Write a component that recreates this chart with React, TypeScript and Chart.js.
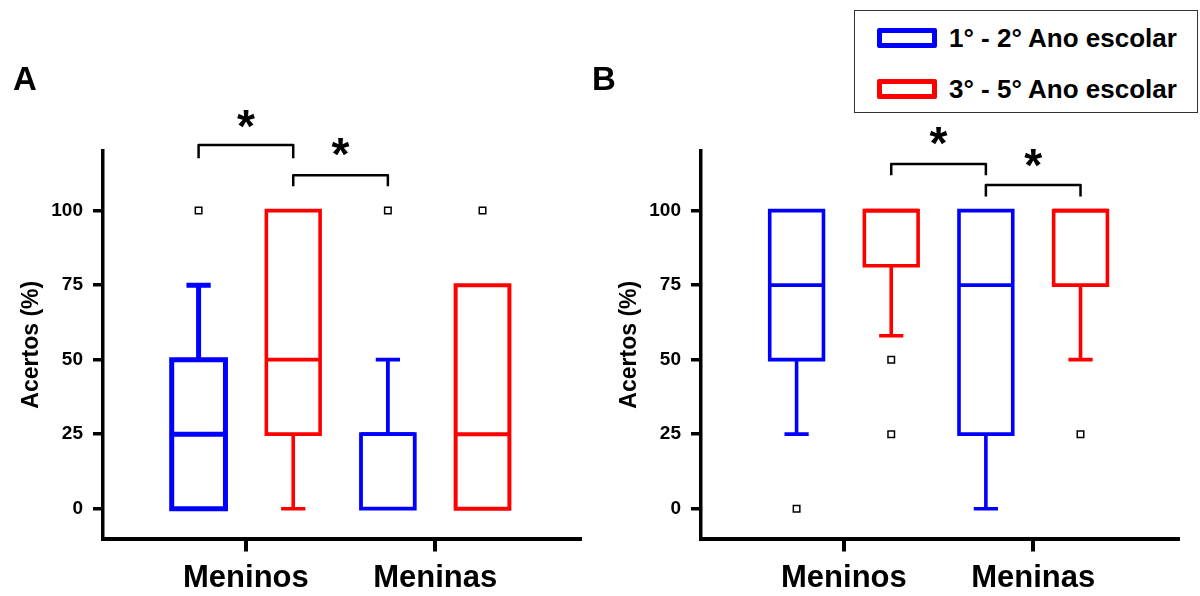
import React, { useEffect, useRef } from 'react';
import { Chart, registerables } from 'chart.js';

Chart.register(...registerables);

// ---------- data ----------
const categories = ['Meninos', 'Meninas'];
const seriesNames = ['1° - 2° Ano escolar', '3° - 5° Ano escolar'];
const seriesColors = ['#0000FF', '#FF0000'];
const yTickValues = [0, 25, 50, 75, 100];
const yTitle = 'Acertos (%)';

// Panel A — 1°-2° (blue)
const aBlueMin = [0, 0];
const aBlueQ1 = [0, 0];
const aBlueMedian = [25, 25];
const aBlueQ3 = [50, 25];
const aBlueMax = [75, 50];
const aBlueOutliers = [[100], [100]];
// Panel A — 3°-5° (red)
const aRedMin = [0, 0];
const aRedQ1 = [25, 0];
const aRedMedian = [50, 25];
const aRedQ3 = [100, 75];
const aRedMax = [100, 75];
const aRedOutliers: number[][] = [[], [100]];

// Panel B — 1°-2° (blue)
const bBlueMin = [25, 0];
const bBlueQ1 = [50, 25];
const bBlueMedian = [75, 75];
const bBlueQ3 = [100, 100];
const bBlueMax = [100, 100];
const bBlueOutliers: number[][] = [[0], []];
// Panel B — 3°-5° (red)
const bRedMin = [58, 50];
const bRedQ1 = [81.5, 75];
const bRedMedian = [100, 100];
const bRedQ3 = [100, 100];
const bRedMax = [100, 100];
const bRedOutliers = [[50, 25], [25]];

// significance brackets (group index = category * 2 + series)
const aBracketFrom = [0, 1];
const aBracketTo = [1, 2];
const aBracketLevel = [122, 111.9];
const aBracketTip = [117.6, 108.2];
const aStarLevel = [130.7, 121.4];

const bBracketFrom = [1, 2];
const bBracketTo = [2, 3];
const bBracketLevel = [115.6, 108.6];
const bBracketTip = [111.9, 104.7];
const bStarLevel = [125.1, 117.5];

// ---------- layout / style constants ----------
const GROUP_OFFSET = [-0.25, 0.25];
const BOX_HALF = 0.142;
const CAP_HALF = 0.064;
const X_MIN = 0.245;
const X_MAX = 2.765;
const Y_MIN = -10;
const Y_MAX = 120;
const SANS = '"Liberation Sans", Arial, sans-serif';
const NARROW = '"Liberation Sans Narrow", "Arial Narrow", "Liberation Sans", sans-serif';
const aLineWidths = [[5, 3.8], [3.6, 4]];
const bLineWidths = [[3.6, 3.6], [3.6, 3.6]];

interface Stats {
  min: number[]; q1: number[]; median: number[]; q3: number[]; max: number[]; outliers: number[][];
}
interface Bracket { from: number; to: number; level: number; tip: number; star: number }
interface Panel { series: Stats[]; brackets: Bracket[]; lineWidths: number[][] }

const makeBrackets = (from: number[], to: number[], level: number[], tip: number[], star: number[]): Bracket[] =>
  from.map((f, i) => ({ from: f, to: to[i], level: level[i], tip: tip[i], star: star[i] }));

const panelA: Panel = {
  series: [
    { min: aBlueMin, q1: aBlueQ1, median: aBlueMedian, q3: aBlueQ3, max: aBlueMax, outliers: aBlueOutliers },
    { min: aRedMin, q1: aRedQ1, median: aRedMedian, q3: aRedQ3, max: aRedMax, outliers: aRedOutliers },
  ],
  brackets: makeBrackets(aBracketFrom, aBracketTo, aBracketLevel, aBracketTip, aStarLevel),
  lineWidths: aLineWidths,
};
const panelB: Panel = {
  series: [
    { min: bBlueMin, q1: bBlueQ1, median: bBlueMedian, q3: bBlueQ3, max: bBlueMax, outliers: bBlueOutliers },
    { min: bRedMin, q1: bRedQ1, median: bRedMedian, q3: bRedQ3, max: bRedMax, outliers: bRedOutliers },
  ],
  brackets: makeBrackets(bBracketFrom, bBracketTo, bBracketLevel, bBracketTip, bStarLevel),
  lineWidths: bLineWidths,
};

const groupX = (ci: number, si: number) => ci + 1 + GROUP_OFFSET[si];
const groupIndexX = (g: number) => groupX(Math.floor(g / 2), g % 2);

function createPanelChart(canvas: HTMLCanvasElement, panel: Panel, rightPad: number) {
  const outlierData: { x: number; y: number }[] = [];
  panel.series.forEach((s, si) =>
    s.outliers.forEach((list, ci) => list.forEach((v) => outlierData.push({ x: groupX(ci, si), y: v })))
  );

  const plugin = {
    id: 'boxplotPanel',
    beforeDatasetsDraw(chart: any) {
      const { ctx } = chart;
      const xs = chart.scales.x;
      const ys = chart.scales.y;
      ctx.save();
      ctx.lineJoin = 'miter';
      ctx.lineCap = 'butt';
      panel.series.forEach((s, si) => {
        for (let ci = 0; ci < categories.length; ci++) {
          const gx = groupX(ci, si);
          const cx = xs.getPixelForValue(gx);
          const hw = xs.getPixelForValue(gx + BOX_HALF) - cx;
          const cw = xs.getPixelForValue(gx + CAP_HALF) - cx;
          const yMin = ys.getPixelForValue(s.min[ci]);
          const yQ1 = ys.getPixelForValue(s.q1[ci]);
          const yMed = ys.getPixelForValue(s.median[ci]);
          const yQ3 = ys.getPixelForValue(s.q3[ci]);
          const yMax = ys.getPixelForValue(s.max[ci]);
          ctx.strokeStyle = seriesColors[si];
          ctx.lineWidth = panel.lineWidths[si][ci];
          ctx.beginPath();
          if (s.max[ci] > s.q3[ci]) {
            ctx.moveTo(cx, yQ3);
            ctx.lineTo(cx, yMax);
            ctx.moveTo(cx - cw, yMax);
            ctx.lineTo(cx + cw, yMax);
          }
          if (s.min[ci] < s.q1[ci]) {
            ctx.moveTo(cx, yQ1);
            ctx.lineTo(cx, yMin);
            ctx.moveTo(cx - cw, yMin);
            ctx.lineTo(cx + cw, yMin);
          }
          ctx.stroke();
          ctx.beginPath();
          ctx.rect(cx - hw, yQ3, 2 * hw, yQ1 - yQ3);
          ctx.stroke();
          ctx.beginPath();
          ctx.moveTo(cx - hw, yMed);
          ctx.lineTo(cx + hw, yMed);
          ctx.stroke();
        }
      });
      ctx.restore();
    },
    afterDraw(chart: any) {
      const { ctx } = chart;
      const xs = chart.scales.x;
      const ys = chart.scales.y;
      ctx.save();
      ctx.strokeStyle = '#000';
      ctx.fillStyle = '#000';
      ctx.lineWidth = 2.5;
      ctx.lineJoin = 'round';
      ctx.font = `bold 100px ${SANS}`;
      const m100 = ctx.measureText('*');
      const w100 = m100.actualBoundingBoxLeft + m100.actualBoundingBoxRight || 33;
      const starSize = (100 * 18) / w100;
      panel.brackets.forEach((b) => {
        const x1 = xs.getPixelForValue(groupIndexX(b.from));
        const x2 = xs.getPixelForValue(groupIndexX(b.to));
        const yl = ys.getPixelForValue(b.level);
        const yt = ys.getPixelForValue(b.tip);
        ctx.beginPath();
        ctx.moveTo(x1, yt);
        ctx.lineTo(x1, yl);
        ctx.lineTo(x2, yl);
        ctx.lineTo(x2, yt);
        ctx.stroke();
        ctx.font = `bold ${starSize}px ${SANS}`;
        ctx.textAlign = 'left';
        ctx.textBaseline = 'alphabetic';
        const m = ctx.measureText('*');
        const cx = (x1 + x2) / 2;
        const cy = ys.getPixelForValue(b.star);
        const tx = cx - (m.actualBoundingBoxRight - m.actualBoundingBoxLeft) / 2;
        const ty = cy + (m.actualBoundingBoxAscent - m.actualBoundingBoxDescent) / 2;
        ctx.fillText('*', tx, ty);
      });
      ctx.restore();
    },
  };

  return new Chart(canvas, {
    type: 'scatter',
    data: {
      datasets: [
        {
          data: outlierData,
          pointStyle: 'rect',
          pointRadius: 4.6,
          borderColor: '#000',
          borderWidth: 1.5,
          backgroundColor: '#fff',
        },
      ],
    },
    options: {
      responsive: false,
      animation: false,
      layout: { padding: { left: 0, top: 151, right: rightPad, bottom: 0 } },
      plugins: { legend: { display: false }, tooltip: { enabled: false } },
      scales: {
        x: {
          type: 'linear',
          position: 'bottom',
          min: X_MIN,
          max: X_MAX,
          afterBuildTicks: (s: any) => {
            s.ticks = categories.map((_, i) => ({ value: i + 1 }));
          },
          afterFit: (s: any) => {
            s.height = 57.5;
          },
          ticks: {
            callback: (v: any) => categories[Number(v) - 1] ?? '',
            font: { family: SANS, weight: 'bold', size: 31 },
            color: '#000',
            padding: 8,
            autoSkip: false,
            maxRotation: 0,
          },
          grid: { drawOnChartArea: false, drawTicks: true, tickLength: 13, lineWidth: 4, color: '#000' },
          border: { display: true, width: 4, color: '#000' },
        },
        y: {
          type: 'linear',
          min: Y_MIN,
          max: Y_MAX,
          afterBuildTicks: (s: any) => {
            s.ticks = yTickValues.map((v) => ({ value: v }));
          },
          afterFit: (s: any) => {
            s.width = 103;
          },
          ticks: {
            font: { family: NARROW, weight: 'bold', size: 19 },
            color: '#000',
            padding: 10,
          },
          title: {
            display: true,
            text: yTitle,
            color: '#000',
            font: { family: SANS, weight: 'bold', size: 23 },
            padding: { top: 17.7, bottom: 0 },
          },
          grid: { drawOnChartArea: false, drawTicks: true, tickLength: 10, lineWidth: 3.5, color: '#000' },
          border: { display: true, width: 3.5, color: '#000' },
        },
      },
    } as any,
    plugins: [plugin],
  });
}

const legendIconTop = [27.7, 79];
const legendTextTop = [24.7, 76.3];

export default function App() {
  const aRef = useRef<HTMLCanvasElement>(null);
  const bRef = useRef<HTMLCanvasElement>(null);

  useEffect(() => {
    const ca = createPanelChart(aRef.current!, panelA, 18);
    const cb = createPanelChart(bRef.current!, panelB, 22);
    return () => {
      ca.destroy();
      cb.destroy();
    };
  }, []);

  return (
    <div style={{ position: 'absolute', left: 0, top: 0, width: 1200, height: 596, background: '#fff', overflow: 'hidden' }}>
      <canvas ref={aRef} width={598} height={596} style={{ position: 'absolute', left: 0, top: 0 }} />
      <canvas ref={bRef} width={602} height={596} style={{ position: 'absolute', left: 598, top: 0 }} />
      <div style={{ position: 'absolute', left: 13, top: 62, font: `bold 33px ${SANS}`, lineHeight: '33px', color: '#000' }}>A</div>
      <div style={{ position: 'absolute', left: 592, top: 62, font: `bold 33px ${SANS}`, lineHeight: '33px', color: '#000' }}>B</div>
      <div
        style={{
          position: 'absolute',
          left: 854,
          top: 10,
          width: 344,
          height: 103,
          border: '1.5px solid #333',
          boxSizing: 'border-box',
          background: '#fff',
        }}
      />
      {seriesNames.map((name, i) => (
        <React.Fragment key={name}>
          <div
            style={{
              position: 'absolute',
              left: 877,
              top: legendIconTop[i],
              width: 60,
              height: 20,
              border: `5px solid ${seriesColors[i]}`,
              boxSizing: 'border-box',
              borderRadius: 2,
            }}
          />
          <div
            style={{
              position: 'absolute',
              left: 949,
              top: legendTextTop[i],
              font: `bold 26px ${SANS}`,
              lineHeight: '26px',
              whiteSpace: 'nowrap',
              color: '#000',
            }}
          >
            {name}
          </div>
        </React.Fragment>
      ))}
    </div>
  );
}
